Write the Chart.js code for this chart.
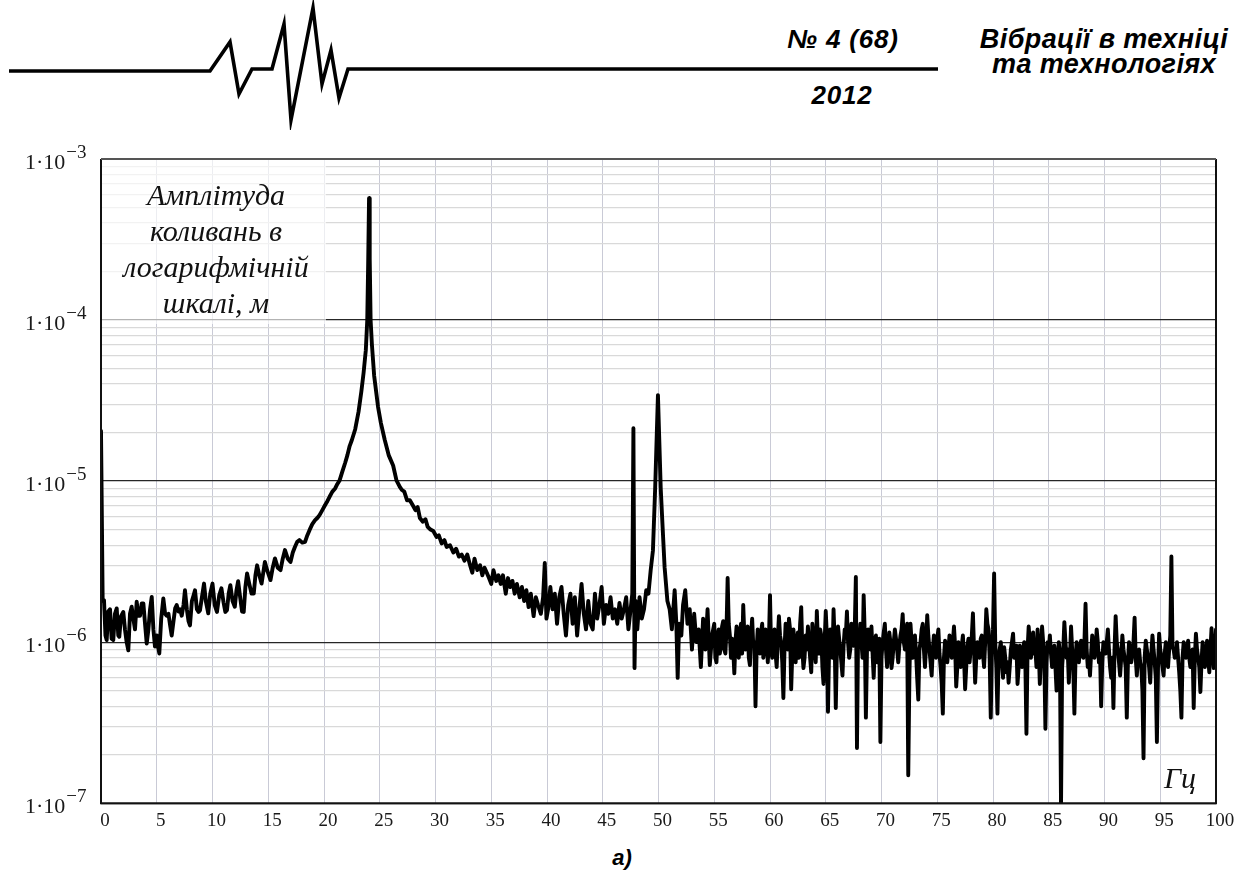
<html><head><meta charset="utf-8">
<script src="https://cdn.jsdelivr.net/npm/chart.js"></script>
<style>
body{margin:0;background:#fff;width:1247px;height:879px;overflow:hidden;position:relative;font-family:"Liberation Sans",Arial,sans-serif}
#logo{position:absolute;left:0;top:0}
#chart{position:absolute;left:0;top:0}
.hd{position:absolute;font-weight:bold;font-style:italic;color:#000;white-space:nowrap;transform:translate(-50%,-50%);line-height:1}
</style>
</head>
<body>
<svg id="logo" width="1247" height="130">
 <polyline points="9,71 210,71 230,42 239,94 252,69 272,69 284,24 291,120 313,8 322,84 331,50 339,98 348,69 938,69"
   fill="none" stroke="#000" stroke-width="3.6" stroke-linejoin="miter" stroke-miterlimit="10"/>
</svg>
<div class="hd" style="left:843px;top:39px;font-size:26px;letter-spacing:0.8px">№ 4 (68)</div>
<div class="hd" style="left:842px;top:95px;font-size:26px;letter-spacing:0.8px">2012</div>
<div class="hd" style="left:1104px;top:39px;font-size:27px;letter-spacing:0.4px">Вібрації в техніці</div>
<div class="hd" style="left:1104px;top:64px;font-size:27px;letter-spacing:0.4px">та технологіях</div>
<div class="hd" style="left:622px;top:858px;font-size:22px">а)</div>
<canvas id="chart" width="1247" height="879"></canvas>
<script>
// 0 ... 54.8 Hz: frequency (Hz) and amplitude (micrometres)
var freqA = [
 0, 0.15, 0.27, 0.4, 0.51, 0.65, 0.81, 0.95, 1.1, 1.25,
 1.41, 1.55, 1.64, 1.8, 2.0, 2.15, 2.3, 2.45, 2.6, 2.75,
 2.9, 3.05, 3.2, 3.35, 3.5, 3.65, 3.8, 3.95, 4.1, 4.25,
 4.4, 4.55, 4.7, 4.84, 5.0, 5.1, 5.23, 5.4, 5.59, 5.75,
 5.89, 6.05, 6.2, 6.34, 6.5, 6.65, 6.79, 6.95, 7.1, 7.24,
 7.4, 7.53, 7.7, 7.85, 7.98, 8.15, 8.3, 8.43, 8.6, 8.75,
 8.88, 9.05, 9.24, 9.4, 9.62, 9.8, 10.0, 10.2, 10.4, 10.6,
 10.8, 11.0, 11.15, 11.3, 11.45, 11.6, 11.8, 12.0, 12.15, 12.3,
 12.5, 12.65, 12.8, 12.95, 13.1, 13.3, 13.5, 13.7, 13.85, 14.0,
 14.2, 14.4, 14.55, 14.7, 14.9, 15.2, 15.4, 15.6, 15.85, 16.1,
 16.3, 16.5, 16.75, 17.0, 17.2, 17.4, 17.6, 17.8, 18.05, 18.3,
 18.5, 18.7, 18.95, 19.2, 19.4, 19.6, 19.85, 20.1, 20.3, 20.5,
 20.75, 21.0, 21.2, 21.4, 21.65, 21.9, 22.1, 22.3, 22.5, 22.8,
 23.1, 23.35, 23.55, 23.75, 23.88, 23.96, 24.04, 24.1, 24.18, 24.3,
 24.5, 24.85, 25.1, 25.45, 25.8, 26.2, 26.5, 26.8, 27.0, 27.2,
 27.45, 27.7, 28.0, 28.2, 28.4, 28.6, 28.85, 29.1, 29.3, 29.55,
 29.8, 30.1, 30.3, 30.55, 30.8, 31.0, 31.3, 31.6, 31.85, 32.1,
 32.35, 32.6, 32.85, 33.1, 33.3, 33.5, 33.75, 34.0, 34.2, 34.4,
 34.6, 34.8, 35.0, 35.2, 35.45, 35.65, 35.85, 36.05, 36.3, 36.5,
 36.7, 36.9, 37.1, 37.3, 37.55, 37.75, 37.95, 38.15, 38.35, 38.55,
 38.8, 39.0, 39.2, 39.45, 39.65, 39.8, 39.95, 40.1, 40.3, 40.5,
 40.7, 40.9, 41.1, 41.3, 41.5, 41.7, 41.9, 42.1, 42.3, 42.5,
 42.7, 42.9, 43.1, 43.3, 43.5, 43.7, 43.9, 44.1, 44.3, 44.5,
 44.7, 44.9, 45.1, 45.3, 45.5, 45.7, 45.9, 46.1, 46.3, 46.5,
 46.7, 46.9, 47.1, 47.3, 47.5, 47.65, 47.75, 47.85, 47.95, 48.1,
 48.3, 48.5, 48.7, 48.9, 49.1, 49.3, 49.5, 49.7, 49.85, 49.95,
 50.05, 50.2, 50.35, 50.55, 50.8, 51.0, 51.2, 51.45, 51.6, 51.72,
 51.85, 52.05, 52.2, 52.4, 52.6, 52.8, 53.0, 53.2, 53.4, 53.6,
 53.8, 54.0, 54.2, 54.4, 54.6, 54.8
];
var ampA = [
 20.5, 1.8, 1.82, 1.1, 1.03, 1.55, 1.6, 1.05, 1.03, 1.5,
 1.62, 1.1, 1.08, 1.45, 1.54, 1.2, 1.0, 0.89, 1.5, 1.66,
 1.4, 1.2, 1.78, 1.46, 1.46, 1.74, 1.74, 1.3, 0.98, 1.2,
 1.6, 1.91, 1.2, 0.94, 1.1, 0.95, 0.85, 1.4, 1.87, 1.5,
 1.46, 1.5, 1.27, 1.1, 1.35, 1.62, 1.7, 1.55, 1.6, 1.46,
 1.7, 2.1, 1.6, 1.35, 1.27, 1.8, 1.95, 2.1, 1.6, 1.54,
 1.58, 1.9, 2.31, 1.8, 1.51, 2.0, 2.31, 1.7, 1.54, 1.95,
 2.16, 1.75, 1.54, 1.58, 2.0, 2.26, 1.8, 1.66, 2.1, 2.39,
 1.85, 1.55, 1.54, 2.2, 2.67, 2.3, 2.0, 2.0, 2.6, 3.0,
 2.6, 2.31, 2.7, 3.15, 2.8, 2.43, 2.9, 3.31, 2.9, 2.8,
 3.3, 3.73, 3.3, 3.15, 3.6, 3.91, 4.2, 4.3, 4.15, 4.2,
 4.6, 4.96, 5.4, 5.72, 5.9, 6.15, 6.6, 7.1, 7.5, 7.99,
 8.6, 9.0, 9.6, 10.1, 11.5, 13.0, 14.5, 16.5, 18.0, 21.0,
 27, 36, 47, 65, 100, 220, 570, 240, 100, 70,
 45, 28.8, 23, 18, 14.5, 12.5, 10.1, 9.2, 8.8, 8.6,
 7.6, 7.6, 7.0, 6.6, 6.9, 5.9, 5.6, 5.8, 5.2, 5.0,
 4.9, 4.5, 4.6, 4.1, 4.3, 3.9, 4.0, 3.6, 3.8, 3.4,
 3.5, 3.2, 3.5, 3.0, 2.7, 3.3, 2.8, 3.0, 2.6, 2.9,
 2.7, 2.5, 2.3, 2.8, 2.4, 2.6, 2.3, 2.6, 2.0, 2.5,
 2.2, 2.4, 2.0, 2.3, 1.9, 2.2, 1.8, 2.1, 1.65, 2.0,
 1.45, 1.9, 1.7, 1.5, 1.9, 3.1, 1.4, 1.6, 2.2, 1.6,
 2.0, 1.3, 1.9, 2.2, 1.5, 1.1, 1.7, 2.0, 1.3, 1.9,
 1.1, 1.6, 2.3, 1.5, 1.2, 1.8, 1.3, 1.2, 2.0, 1.4,
 1.7, 2.2, 1.3, 1.7, 1.5, 1.9, 1.4, 1.6, 1.3, 1.75,
 1.4, 1.6, 1.9, 1.2, 1.6, 2.0, 21.3, 0.69, 1.8, 1.2,
 1.9, 1.4, 1.6, 2.1, 2.0, 2.8, 3.7, 9, 20, 34.2,
 20, 9, 5.5, 2.9, 1.8, 1.6, 1.2, 2.1, 1.3, 0.6,
 1.3, 1.1, 1.7, 2.1, 1.3, 1.6, 0.9, 1.5, 1.0, 1.2,
 0.7, 1.4, 0.9, 1.6, 0.72, 1.1
];
// 55 ... 100 Hz, noise floor: frequency (Hz) and amplitude (micrometres)
var freqB = [
 55.0, 55.1, 55.2, 55.3, 55.4, 55.5, 55.6, 55.7, 55.8, 55.9,
 56.0, 56.1, 56.2, 56.3, 56.4, 56.5, 56.6, 56.7, 56.8, 56.9,
 57.0, 57.1, 57.2, 57.3, 57.4, 57.5, 57.6, 57.7, 57.8, 57.9,
 58.0, 58.1, 58.2, 58.3, 58.4, 58.5, 58.6, 58.7, 58.8, 58.9,
 59.0, 59.1, 59.2, 59.3, 59.4, 59.5, 59.6, 59.7, 59.8, 59.9,
 60.0, 60.1, 60.2, 60.3, 60.4, 60.5, 60.6, 60.7, 60.8, 60.9,
 61.0, 61.1, 61.2, 61.3, 61.4, 61.5, 61.6, 61.7, 61.8, 61.9,
 62.0, 62.1, 62.2, 62.3, 62.4, 62.5, 62.6, 62.7, 62.8, 62.9,
 63.0, 63.1, 63.2, 63.3, 63.4, 63.5, 63.6, 63.7, 63.8, 63.9,
 64.0, 64.1, 64.2, 64.3, 64.4, 64.5, 64.6, 64.7, 64.8, 64.9,
 65.0, 65.1, 65.2, 65.3, 65.4, 65.5, 65.6, 65.7, 65.8, 65.9,
 66.0, 66.1, 66.2, 66.3, 66.4, 66.5, 66.6, 66.7, 66.8, 66.9,
 67.0, 67.1, 67.2, 67.3, 67.4, 67.5, 67.6, 67.7, 67.8, 67.9,
 68.0, 68.1, 68.2, 68.3, 68.4, 68.5, 68.6, 68.7, 68.8, 68.9,
 69.0, 69.1, 69.2, 69.3, 69.4, 69.5, 69.6, 69.7, 69.8, 69.9,
 70.0, 70.1, 70.2, 70.3, 70.4, 70.5, 70.6, 70.7, 70.8, 70.9,
 71.0, 71.1, 71.2, 71.3, 71.4, 71.5, 71.6, 71.7, 71.8, 71.9,
 72.0, 72.1, 72.2, 72.3, 72.4, 72.5, 72.6, 72.7, 72.8, 72.9,
 73.0, 73.1, 73.2, 73.3, 73.4, 73.5, 73.6, 73.7, 73.8, 73.9,
 74.0, 74.1, 74.2, 74.3, 74.4, 74.5, 74.6, 74.7, 74.8, 74.9,
 75.0, 75.1, 75.2, 75.3, 75.4, 75.5, 75.6, 75.7, 75.8, 75.9,
 76.0, 76.1, 76.2, 76.3, 76.4, 76.5, 76.6, 76.7, 76.8, 76.9,
 77.0, 77.1, 77.2, 77.3, 77.4, 77.5, 77.6, 77.7, 77.8, 77.9,
 78.0, 78.1, 78.2, 78.3, 78.4, 78.5, 78.6, 78.7, 78.8, 78.9,
 79.0, 79.1, 79.2, 79.3, 79.4, 79.5, 79.6, 79.7, 79.8, 79.9,
 80.0, 80.1, 80.2, 80.3, 80.4, 80.5, 80.6, 80.7, 80.8, 80.9,
 81.0, 81.1, 81.2, 81.3, 81.4, 81.5, 81.6, 81.7, 81.8, 81.9,
 82.0, 82.1, 82.2, 82.3, 82.4, 82.5, 82.6, 82.7, 82.8, 82.9,
 83.0, 83.1, 83.2, 83.3, 83.4, 83.5, 83.6, 83.7, 83.8, 83.9,
 84.0, 84.1, 84.2, 84.3, 84.4, 84.5, 84.6, 84.7, 84.8, 84.9,
 85.0, 85.1, 85.2, 85.3, 85.4, 85.5, 85.6, 85.7, 85.8, 85.9,
 86.0, 86.1, 86.2, 86.3, 86.4, 86.5, 86.6, 86.7, 86.8, 86.9,
 87.0, 87.1, 87.2, 87.3, 87.4, 87.5, 87.6, 87.7, 87.8, 87.9,
 88.0, 88.1, 88.2, 88.3, 88.4, 88.5, 88.6, 88.7, 88.8, 88.9,
 89.0, 89.1, 89.2, 89.3, 89.4, 89.5, 89.6, 89.7, 89.8, 89.9,
 90.0, 90.1, 90.2, 90.3, 90.4, 90.5, 90.6, 90.7, 90.8, 90.9,
 91.0, 91.1, 91.2, 91.3, 91.4, 91.5, 91.6, 91.7, 91.8, 91.9,
 92.0, 92.1, 92.2, 92.3, 92.4, 92.5, 92.6, 92.7, 92.8, 92.9,
 93.0, 93.1, 93.2, 93.3, 93.4, 93.5, 93.6, 93.7, 93.8, 93.9,
 94.0, 94.1, 94.2, 94.3, 94.4, 94.5, 94.6, 94.7, 94.8, 94.9,
 95.0, 95.1, 95.2, 95.3, 95.4, 95.5, 95.6, 95.7, 95.8, 95.9,
 96.0, 96.1, 96.2, 96.3, 96.4, 96.5, 96.6, 96.7, 96.8, 96.9,
 97.0, 97.1, 97.2, 97.3, 97.4, 97.5, 97.6, 97.7, 97.8, 97.9,
 98.0, 98.1, 98.2, 98.3, 98.4, 98.5, 98.6, 98.7, 98.8, 98.9,
 99.0, 99.1, 99.2, 99.3, 99.4, 99.5, 99.6, 99.7, 99.8, 99.9,
 100.0
];
var ampB = [
 1.3, 0.8, 0.75, 1.1, 1.2, 0.85, 0.95, 1.25, 1.35, 0.9,
 0.85, 1.2, 2.5, 1.3, 1.1, 0.8, 1.05, 0.9, 0.64, 1.0,
 1.25, 0.95, 0.8, 1.15, 1.3, 0.85, 1.7, 1.1, 0.9, 1.2,
 1.25, 0.8, 0.72, 1.1, 1.4, 0.95, 1.0, 0.40, 0.9, 1.2,
 0.95, 0.85, 1.15, 1.3, 0.8, 0.9, 1.2, 1.1, 0.75, 1.0,
 1.96, 0.9, 0.8, 1.1, 1.2, 0.85, 0.7, 1.05, 1.45, 1.1,
 1.0, 0.75, 0.45, 0.9, 1.3, 1.05, 0.9, 1.4, 1.2, 0.51,
 0.85, 1.2, 0.95, 0.75, 1.0, 1.15, 0.8, 1.3, 1.65, 0.9,
 0.69, 0.8, 1.1, 0.9, 1.25, 1.0, 0.8, 0.65, 1.3, 1.05,
 0.9, 0.75, 1.56, 1.0, 0.85, 1.2, 1.1, 0.7, 0.55, 1.0,
 1.56, 1.1, 0.37, 0.9, 1.2, 1.0, 0.8, 1.6, 1.0, 0.39,
 0.9, 1.25, 1.05, 0.9, 0.75, 0.62, 0.95, 1.2, 1.1, 1.55,
 1.0, 0.8, 0.9, 1.3, 1.1, 0.95, 1.2, 2.54, 0.22, 1.1,
 0.95, 1.3, 1.0, 0.8, 1.96, 1.1, 0.34, 0.9, 1.2, 1.0,
 0.9, 1.25, 0.85, 0.6, 1.0, 1.1, 0.75, 0.8, 1.05, 0.24,
 0.8, 1.0, 1.15, 1.3, 0.9, 0.7, 0.85, 1.15, 1.0, 0.69,
 0.8, 1.0, 1.2, 1.05, 0.9, 0.75, 0.95, 1.1, 1.2, 1.49,
 1.0, 0.9, 1.15, 1.3, 0.149, 0.6, 1.3, 1.0, 0.8, 0.95,
 1.1, 0.85, 0.6, 0.44, 0.9, 1.0, 1.2, 1.3, 0.9, 0.7,
 0.95, 1.47, 1.1, 0.9, 0.75, 0.62, 0.9, 1.1, 0.95, 0.8,
 1.05, 1.2, 0.85, 0.7, 0.55, 0.36, 0.8, 1.02, 0.9, 0.75,
 0.9, 1.1, 0.95, 0.8, 1.0, 1.25, 0.95, 0.53, 0.7, 1.0,
 0.85, 0.7, 0.95, 1.1, 0.8, 0.51, 0.7, 0.95, 1.05, 0.75,
 0.9, 1.1, 1.51, 0.9, 0.56, 0.8, 1.0, 0.9, 0.8, 1.05,
 1.1, 0.85, 0.7, 1.0, 1.6, 1.3, 1.2, 0.8, 0.34, 0.9,
 1.2, 2.67, 1.0, 0.7, 0.36, 0.8, 0.9, 1.0, 0.75, 0.6,
 0.93, 0.8, 0.65, 0.75, 0.56, 0.7, 0.9, 1.0, 1.13, 0.8,
 0.8, 0.95, 0.55, 0.7, 0.95, 0.8, 0.7, 0.9, 1.0, 0.75,
 0.27, 0.9, 1.25, 1.0, 0.8, 0.95, 1.15, 0.85, 0.9, 0.7,
 1.2, 0.9, 0.55, 0.8, 1.25, 1.0, 0.8, 0.29, 0.75, 1.0,
 0.9, 1.1, 0.85, 0.7, 0.8, 0.95, 0.7, 0.5, 0.8, 1.0,
 0.85, 0.095, 0.7, 0.9, 1.33, 1.0, 0.8, 0.9, 0.56, 0.8,
 1.25, 0.9, 0.7, 0.36, 0.8, 1.0, 0.85, 0.75, 0.9, 1.02,
 0.85, 0.8, 1.0, 1.73, 0.9, 0.7, 0.8, 0.62, 0.85, 1.1,
 0.95, 0.8, 0.9, 1.2, 1.0, 0.75, 0.85, 0.40, 0.75, 1.0,
 0.9, 0.85, 1.0, 1.2, 0.9, 0.7, 0.6, 0.8, 0.39, 0.9,
 1.45, 1.0, 0.9, 0.75, 0.62, 0.8, 1.1, 0.9, 0.8, 0.7,
 0.34, 0.75, 1.0, 0.9, 0.75, 0.85, 1.0, 1.42, 0.8, 0.62,
 0.8, 0.9, 0.75, 0.7, 0.5, 0.19, 0.8, 1.02, 0.9, 0.8,
 0.7, 0.56, 0.85, 1.1, 0.9, 0.75, 0.6, 0.24, 0.7, 1.13,
 0.9, 0.8, 0.7, 0.62, 0.85, 1.0, 0.8, 0.7, 0.9, 1.1,
 3.4, 0.93, 0.9, 0.8, 0.85, 1.0, 0.8, 0.65, 0.5, 0.34,
 0.8, 1.0, 0.85, 0.8, 0.9, 1.02, 0.8, 0.7, 0.75, 0.9,
 0.39, 0.8, 1.13, 0.9, 0.8, 0.7, 0.49, 0.75, 1.0, 0.8,
 0.7, 0.85, 1.02, 0.8, 0.65, 0.9, 1.22, 0.9, 0.69, 0.85,
 1.2
];
var xTicks = [0, 5, 10, 15, 20, 25, 30, 35, 40, 45, 50, 55, 60, 65, 70, 75, 80, 85, 90, 95, 100];
// log grid: 1..9 x each decade
var yGrid = [
 1e-7, 2e-7, 3e-7, 4e-7, 5e-7, 6e-7, 7e-7, 8e-7, 9e-7,
 1e-6, 2e-6, 3e-6, 4e-6, 5e-6, 6e-6, 7e-6, 8e-6, 9e-6,
 1e-5, 2e-5, 3e-5, 4e-5, 5e-5, 6e-5, 7e-5, 8e-5, 9e-5,
 1e-4, 2e-4, 3e-4, 4e-4, 5e-4, 6e-4, 7e-4, 8e-4, 9e-4,
 1e-3
];
var yDecades = [1e-7, 1e-6, 1e-5, 1e-4, 1e-3];
var yExp = ['−7', '−6', '−5', '−4', '−3'];
var boxLines = ['Амплітуда', 'коливань в', 'логарифмічній', 'шкалі, м'];
var unitLabel = 'Гц';

function isDecade(v) {
  return yDecades.some(function (d) { return Math.abs(v - d) / d < 1e-6; });
}

var freq = freqA.concat(freqB);
var amp = ampA.concat(ampB);
var points = freq.map(function (f, i) { return {x: f, y: amp[i] * 1e-6}; });

var decor = {
  id: 'decor',
  beforeDatasetsDraw: function (chart) {
    // pale backdrop behind the axis caption
    var c = chart.ctx, a = chart.chartArea;
    c.save();
    c.fillStyle = 'rgba(255,255,255,0.65)';
    c.fillRect(a.left + 1, a.top + 1, 224, 164);
    c.restore();
  },
  afterDraw: function (chart) {
    var c = chart.ctx, a = chart.chartArea, ys = chart.scales.y;
    c.save();
    c.lineWidth = 2;
    c.strokeStyle = '#111';
    c.beginPath();
    c.moveTo(a.left, a.top); c.lineTo(a.left, a.bottom); c.lineTo(a.right, a.bottom); c.lineTo(a.right, a.top);
    c.stroke();
    c.strokeStyle = '#555';
    c.beginPath(); c.moveTo(a.left, a.top); c.lineTo(a.right, a.top); c.stroke();

    c.fillStyle = '#1a1a1a';
    c.textAlign = 'left';
    c.textBaseline = 'alphabetic';
    yDecades.forEach(function (v, i) {
      var y = ys.getPixelForValue(v);
      c.font = '22px "Liberation Serif"';
      c.fillText('1·10', 25, y + 10);
      var w = c.measureText('1·10').width;
      c.font = '19px "Liberation Serif"';
      c.fillText(yExp[i], 25 + w + 1, y - 1);
    });

    c.fillStyle = '#111';
    c.textAlign = 'center';
    c.font = 'italic 30px "Liberation Serif"';
    boxLines.forEach(function (t, i) { c.fillText(t, 216, 205 + 36 * i); });
    c.fillText(unitLabel, 1180, 788);
    c.restore();
  }
};

var ctx = document.getElementById('chart');
var myChart = new Chart(ctx, {
  type: 'line',
  data: {
    datasets: [{
      data: points,
      borderColor: '#000',
      borderWidth: 3.9,
      borderJoinStyle: 'round',
      borderCapStyle: 'round',
      pointRadius: 0,
      tension: 0,
      fill: false
    }]
  },
  options: {
    responsive: false,
    animation: false,
    devicePixelRatio: 1,
    layout: {padding: {left: 101, top: 159, right: 31, bottom: 41}},
    plugins: {legend: {display: false}, tooltip: {enabled: false}},
    scales: {
      x: {
        type: 'linear', min: 0, max: 100,
        afterBuildTicks: function (s) { s.ticks = xTicks.map(function (v) { return {value: v}; }); },
        grid: {color: '#c9cad6', lineWidth: 1, drawTicks: false},
        border: {display: false},
        ticks: {font: {family: '"Liberation Serif"', size: 19}, color: '#1a1a1a', padding: 6,
                labelOffset: 4, maxRotation: 0, autoSkip: false}
      },
      y: {
        type: 'logarithmic', min: 1e-7, max: 1e-3,
        afterBuildTicks: function (s) { s.ticks = yGrid.map(function (v) { return {value: v}; }); },
        grid: {
          color: function (c) { return c.tick && isDecade(c.tick.value) ? '#262626' : '#d9d9d9'; },
          lineWidth: 1.3, drawTicks: false
        },
        border: {display: false},
        ticks: {display: false}
      }
    }
  },
  plugins: [decor]
});
</script>
</body></html>
